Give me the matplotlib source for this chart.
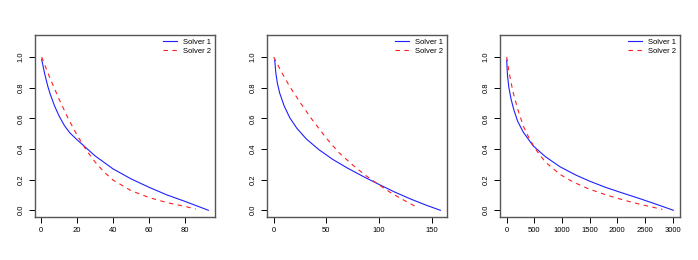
import matplotlib
matplotlib.use('Agg')
import matplotlib.pyplot as plt

plt.rcParams['font.family'] = ['Liberation Sans', 'DejaVu Sans']

# values, one pair of curves per panel
p1_s1_x = [0.3, 1, 2, 3.7, 5, 7.5, 10, 13.1, 16, 20, 30, 40, 50, 60, 70, 80, 93]
p1_s1_y = [0.985, 0.945, 0.89, 0.81, 0.76, 0.68, 0.615, 0.55, 0.505, 0.46, 0.355, 0.27, 0.205, 0.15, 0.1, 0.058, 0.0]
p1_s2_x = [0.3, 5, 10, 15, 20, 25, 30, 35, 40, 50, 60, 70, 80, 86]
p1_s2_y = [1.0, 0.86, 0.725, 0.6, 0.49, 0.395, 0.315, 0.25, 0.197, 0.128, 0.083, 0.05, 0.025, 0.008]

p2_s1_x = [1, 2, 3.5, 5.7, 10, 15.2, 22, 31, 43, 56, 70, 85, 100, 115, 130, 145, 158]
p2_s1_y = [0.98, 0.9, 0.83, 0.765, 0.68, 0.605, 0.535, 0.465, 0.395, 0.332, 0.275, 0.22, 0.168, 0.118, 0.073, 0.032, 0.0]
p2_s2_x = [0, 8, 15, 25, 35, 50, 62, 75, 87, 100, 112, 125, 137]
p2_s2_y = [1.0, 0.895, 0.81, 0.705, 0.605, 0.47, 0.375, 0.295, 0.228, 0.165, 0.11, 0.06, 0.015]

p3_s1_x = [0, 15, 40, 80, 130, 200, 300, 480, 700, 960, 1250, 1500, 1800, 2100, 2400, 2700, 3015]
p3_s1_y = [0.98, 0.88, 0.8, 0.725, 0.655, 0.58, 0.51, 0.42, 0.35, 0.285, 0.23, 0.19, 0.148, 0.112, 0.077, 0.04, 0.0]
p3_s2_x = [0, 30, 70, 120, 200, 300, 420, 540, 700, 960, 1200, 1465, 1800, 2100, 2400, 2667, 2817]
p3_s2_y = [1.0, 0.93, 0.85, 0.765, 0.66, 0.55, 0.46, 0.39, 0.315, 0.235, 0.185, 0.142, 0.1, 0.068, 0.04, 0.018, 0.006]

panels = [
    (p1_s1_x, p1_s1_y, p1_s2_x, p1_s2_y, [0, 20, 40, 60, 80]),
    (p2_s1_x, p2_s1_y, p2_s2_x, p2_s2_y, [0, 50, 100, 150]),
    (p3_s1_x, p3_s1_y, p3_s2_x, p3_s2_y, [0, 500, 1000, 1500, 2000, 2500, 3000]),
]
y_ticks = [0.0, 0.2, 0.4, 0.6, 0.8, 1.0]

fig = plt.figure(figsize=(6.98, 2.6), dpi=100)
lefts = [35, 267, 500]
fs = 5.5

for left, (x1, y1, x2, y2, xt) in zip(lefts, panels):
    ax = fig.add_axes([left / 698, 43 / 260, 180 / 698, 182 / 260])
    ax.plot(x1, y1, color='#2020ff', lw=0.8, label='Solver 1')
    ax.plot(x2, y2, color='#ff2020', lw=0.8, dashes=(4, 4), label='Solver 2')
    # R style 4% padding around the data range
    lo = min(min(x1), min(x2))
    hi = max(max(x1), max(x2))
    pad = (hi - lo) * 0.04
    ax.set_xlim(lo - pad, hi + pad)
    ax.set_ylim(-0.044, 1.144)
    ax.set_xticks(xt)
    ax.set_xticklabels([str(v) for v in xt])
    ax.set_yticks(y_ticks)
    ax.set_yticklabels(['%.1f' % v for v in y_ticks], rotation=90, va='center')
    ax.tick_params(direction='out', length=4, width=0.7, labelsize=fs, color='black')
    ax.tick_params(axis='x', pad=3.5)
    ax.tick_params(axis='y', pad=3.5)
    for s in ax.spines.values():
        s.set_color('#555555')
        s.set_linewidth(1.0)
    ax.legend(loc='upper right', frameon=False, fontsize=fs, handlelength=1.9,
              handletextpad=0.8, labelspacing=0.15, borderpad=0.2, borderaxespad=0.3)

fig.savefig('out.png', dpi=100)
